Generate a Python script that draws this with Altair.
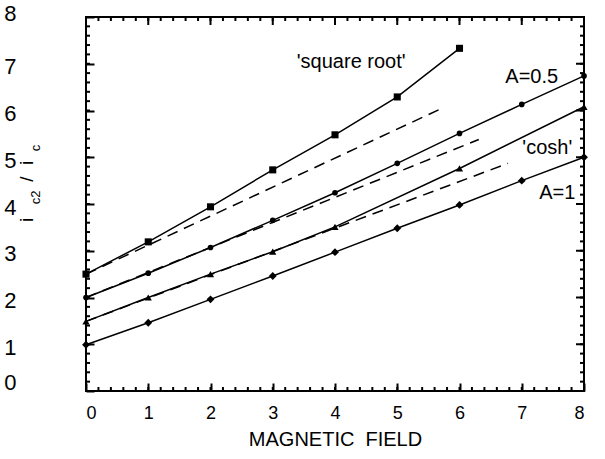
import altair as alt
import pandas as pd

# ---- i_c2 / i_c against magnetic field, one list pair per curve ----
sqrt_field = [0, 1, 2, 3, 4, 5, 6]
sqrt_ratio = [2.50, 3.19, 3.94, 4.73, 5.48, 6.29, 7.33]

a05_field = [0, 1, 2, 3, 4, 5, 6, 7, 8]
a05_ratio = [2.00, 2.52, 3.07, 3.65, 4.24, 4.87, 5.51, 6.13, 6.74]

cosh_field = [0, 1, 2, 3, 4, 6, 8]
cosh_ratio = [1.49, 2.00, 2.50, 2.98, 3.51, 4.76, 6.08]

a1_field = [0, 1, 2, 3, 4, 5, 6, 7, 8]
a1_ratio = [0.99, 1.46, 1.96, 2.46, 2.97, 3.48, 3.98, 4.50, 5.00]

# ---- straight dashed reference lines (start, end) ----
sqrt_lin_field = [0, 5.69]
sqrt_lin_ratio = [2.50, 6.03]
a05_lin_field = [0, 6.31]
a05_lin_ratio = [2.00, 5.38]
cosh_lin_field = [0, 6.78]
cosh_lin_ratio = [1.49, 4.87]

# ---- curve labels ----
label_text = ["'square root'", "A=0.5", "'cosh'", "A=1"]
label_field = [4.26, 7.16, 7.41, 7.57]
label_ratio = [7.04, 6.72, 5.20, 4.24]

# ---- rotated y title pieces: i_c2 / i_c ----
ytitle_text = ["i", "c2", "/", "i", "c"]
ytitle_field = [-0.851, -0.739, -0.851, -0.851, -0.739]
ytitle_ratio = [3.66, 4.14, 4.53, 4.88, 5.20]
ytitle_small = [False, True, False, False, True]

# ---- ticks ----
major_ticks = [0, 1, 2, 3, 4, 5, 6, 7, 8]
minor_ticks = [round(0.2 * k, 1) for k in range(41)]

FONT = "Liberation Sans"
W, H = 498, 374
MAJOR_LEN, MINOR_LEN = 8, 4
MARKERS = {
    "sqrt": ("square", 50),
    "a05": ("circle", 32),
    "cosh": ("triangle-up", 52),
    "a1": ("diamond", 62),
}

series = [
    ("sqrt", sqrt_field, sqrt_ratio),
    ("a05", a05_field, a05_ratio),
    ("cosh", cosh_field, cosh_ratio),
    ("a1", a1_field, a1_ratio),
]
curves = pd.DataFrame(
    [
        {"series": name, "field": f, "ratio": r,
         "shape": MARKERS[name][0], "msize": MARKERS[name][1]}
        for name, fs, rs in series
        for f, r in zip(fs, rs)
    ]
)

fits = pd.DataFrame(
    [
        {"series": name, "field": f, "ratio": r}
        for name, fs, rs in [
            ("sqrt", sqrt_lin_field, sqrt_lin_ratio),
            ("a05", a05_lin_field, a05_lin_ratio),
            ("cosh", cosh_lin_field, cosh_lin_ratio),
        ]
        for f, r in zip(fs, rs)
    ]
)

labels = pd.DataFrame({"text": label_text, "field": label_field, "ratio": label_ratio})

ytitle = pd.DataFrame(
    {
        "text": ytitle_text,
        "field": ytitle_field,
        "ratio": ytitle_ratio,
        "fs": [13 if s else 19 for s in ytitle_small],
    }
)

xscale = alt.Scale(domain=[0, 8], nice=False, zero=False)
yscale = alt.Scale(domain=[0, 8], nice=False, zero=False)

# The labelled axes are pulled inside the frame by one tick length, so their
# outward ticks end up pointing into the plot from the frame edge.
x_axis = alt.Axis(
    values=major_ticks, ticks=True, tickSize=MAJOR_LEN, tickWidth=2,
    tickColor="black", offset=-MAJOR_LEN, domain=False, grid=False,
    labelFont=FONT, labelFontSize=18, labelColor="black",
    labelPadding=27, labelBaseline="alphabetic",
    title="MAGNETIC\u00a0 FIELD", titleFont=FONT, titleFontSize=20,
    titleFontWeight="normal", titleColor="black",
    titleY=54 + MAJOR_LEN, titleBaseline="alphabetic",
)
y_axis = alt.Axis(
    values=major_ticks, ticks=True, tickSize=MAJOR_LEN, tickWidth=2,
    tickColor="black", offset=-MAJOR_LEN, domain=False, grid=False,
    labelFont=FONT, labelFontSize=22, labelColor="black",
    labelPadding=70, labelOffset=3,
    labelBaseline={
        "condition": [
            {"test": "datum.value == 0", "value": "bottom"},
            {"test": "datum.value == 8", "value": "alphabetic"},
        ],
        "value": "middle",
    },
    title=None,
)

lines = alt.Chart(curves).mark_line(color="black", strokeWidth=1.5).encode(
    x=alt.X("field:Q", scale=xscale, axis=x_axis),
    y=alt.Y("ratio:Q", scale=yscale, axis=y_axis),
    detail="series:N",
)

dashed = alt.Chart(fits).mark_line(
    color="black", strokeWidth=1.5, strokeDash=[11, 7]
).encode(
    x=alt.X("field:Q", scale=xscale, axis=None),
    y=alt.Y("ratio:Q", scale=yscale, axis=None),
    detail="series:N",
)

points = alt.Chart(curves).mark_point(filled=True, color="black", opacity=1).encode(
    x=alt.X("field:Q", scale=xscale, axis=None),
    y=alt.Y("ratio:Q", scale=yscale, axis=None),
    shape=alt.Shape("shape:N", scale=None),
    size=alt.Size("msize:Q", scale=None),
    detail="series:N",
)

notes = alt.Chart(labels).mark_text(
    font=FONT, fontSize=20, color="black", align="center", baseline="middle"
).encode(
    x=alt.X("field:Q", scale=xscale, axis=None),
    y=alt.Y("ratio:Q", scale=yscale, axis=None),
    text="text:N",
)

ylabel = alt.Chart(ytitle).mark_text(
    font=FONT, color="black", align="center", baseline="alphabetic", angle=270
).encode(
    x=alt.X("field:Q", scale=xscale, axis=None),
    y=alt.Y("ratio:Q", scale=yscale, axis=None),
    text="text:N",
    size=alt.Size("fs:Q", scale=None),
)


# remaining inward tick marks (minor ticks, plus the top and right sides)
def x_ticks(values, length, at_top):
    centre = length / 2 if at_top else H - length / 2
    return alt.Chart(pd.DataFrame({"v": values})).mark_tick(
        color="black", orient="vertical", size=length, thickness=2, opacity=1
    ).encode(
        x=alt.X("v:Q", scale=xscale, axis=None),
        y=alt.value(centre),
    )


def y_ticks(values, length, at_right):
    centre = W - length / 2 if at_right else length / 2
    return alt.Chart(pd.DataFrame({"v": values})).mark_tick(
        color="black", orient="horizontal", size=length, thickness=2, opacity=1
    ).encode(
        y=alt.Y("v:Q", scale=yscale, axis=None),
        x=alt.value(centre),
    )


ticks = [
    x_ticks(minor_ticks, MINOR_LEN, False),
    x_ticks(major_ticks, MAJOR_LEN, True),
    x_ticks(minor_ticks, MINOR_LEN, True),
    y_ticks(minor_ticks, MINOR_LEN, False),
    y_ticks(major_ticks, MAJOR_LEN, True),
    y_ticks(minor_ticks, MINOR_LEN, True),
]

chart = (
    alt.layer(lines, dashed, points, notes, ylabel, *ticks)
    .resolve_axis(x="independent", y="independent")
    .properties(
        width=W,
        height=H,
        padding={"left": 86, "top": 17, "right": 21, "bottom": 68},
        autosize=alt.AutoSizeParams(type="none"),
        background="white",
    )
    .configure_view(stroke="black", strokeWidth=2)
)

chart.save("out.html", embed_options={"renderer": "svg", "actions": False})
